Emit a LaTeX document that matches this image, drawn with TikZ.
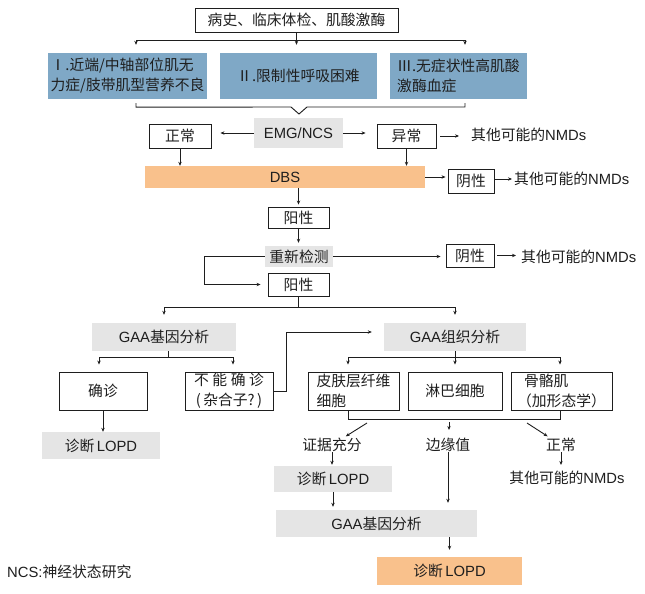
\documentclass[tikz,border=0pt]{standalone}
\usepackage{fontspec}
\setmainfont{Noto Sans CJK SC}
\newfontfamily\lat{Liberation Sans}
\usetikzlibrary{arrows.meta}
\definecolor{boxblue}{RGB}{127,168,198}
\definecolor{boxorange}{RGB}{249,193,140}
\definecolor{boxgrey}{RGB}{229,229,229}
\definecolor{ink}{RGB}{30,30,30}

\begin{document}
\begin{tikzpicture}[x=1pt, y=-1pt, font=\fontsize{14.8}{20}\selectfont, text=ink,
  plainbox/.style={draw=ink, line width=0.9pt, inner sep=0pt, align=center},
  bluebox/.style={fill=boxblue, inner sep=0pt},
  greybox/.style={fill=boxgrey, inner sep=0pt},
  orangebox/.style={fill=boxorange, inner sep=0pt},
  plaintext/.style={inner sep=0pt},
  ln/.style={draw=ink, line width=0.9pt},
  arr/.style={draw=ink, line width=0.9pt, -{Stealth[length=4pt, width=3.4pt]}}]
\useasboundingbox (0,0) rectangle (645,594);

\node[plainbox, minimum width=203, minimum height=24] (hist) at (296.5,20) {病史、临床体检、肌酸激酶};
\node[bluebox, minimum width=159, minimum height=46, align=left] (typeA) at (127.5,76) {Ⅰ.近端/中轴部位肌无\\力症/肢带肌型营养不良};
\node[bluebox, minimum width=157, minimum height=46] (typeB) at (298.5,76) {Ⅱ.限制性呼吸困难};
\node[bluebox, minimum width=137, minimum height=46, align=left] (typeC) at (458.5,76) {Ⅲ.无症状性高肌酸\\激酶血症};
\draw[arr, shorten >=8pt] (hist.south) -- ++(0,8) -| ([xshift=8.5pt]typeA.north);
\draw[arr, shorten >=8pt] (hist.south) -- (hist.south |- typeB.north);
\draw[arr, shorten >=8pt] (hist.south) -- ++(0,8) -| ([xshift=6.5pt]typeC.north);
\draw[ln] ([xshift=8.5pt, yshift=-4pt]typeA.south) -- ++(0,4) -- (291,107) -- (299,114) -- (307,107) -| ([xshift=6.5pt, yshift=-4pt]typeC.south);

\node[greybox, minimum width=89, minimum height=30] (emg) at (298.5,133) {\lat EMG/NCS};
\node[plainbox, minimum width=62, minimum height=24] (norm) at (180,136) {正常};
\node[plainbox, minimum width=59, minimum height=24] (abn) at (406.5,136) {异常};
\node[plaintext, anchor=west] (nmdA) at (471,135) {其他可能的{\lat NMDs}};
\draw[arr, shorten >=9pt] (emg.west) -- (emg.west -| norm.east);
\draw[arr, shorten >=11pt] (emg.east) -- (emg.east -| abn.west);
\draw[arr, shorten <=4pt, shorten >=12pt] (abn.east) -- (abn.east -| nmdA.west);

\node[orangebox, minimum width=280, minimum height=22] (dbs) at (285,177) {\lat DBS};
\node[plainbox, minimum width=46, minimum height=24] (negA) at (471,181) {阴性};
\node[plaintext, anchor=west] (nmdB) at (514,179) {其他可能的{\lat NMDs}};
\draw[arr] (norm.south) -- (norm.south |- dbs.north);
\draw[arr] (abn.south) -- (abn.south |- dbs.north);
\draw[arr, shorten >=2pt] (dbs.east) -- (dbs.east -| negA.west);
\draw[arr, shorten >=2pt] (negA.east |- nmdB.west) -- (nmdB.west);

\node[plainbox, minimum width=61, minimum height=21] (posA) at (298.5,217.5) {阳性};
\node[greybox, minimum width=68, minimum height=21] (retest) at (299,256.5) {重新检测};
\node[plainbox, minimum width=48, minimum height=23] (negB) at (470,255.5) {阴性};
\node[plaintext, anchor=west] (nmdC) at (521,257) {其他可能的{\lat NMDs}};
\node[plainbox, minimum width=61, minimum height=23] (posB) at (298.5,284.5) {阳性};
\draw[arr, shorten >=2pt] (posA.north |- dbs.south) -- (posA.north);
\draw[arr, shorten >=3pt] (posA.south) -- (posA.south |- retest.north);
\draw[arr, shorten >=5pt] (retest.east) -- (retest.east -| negB.west);
\draw[arr, shorten <=3pt, shorten >=5pt] (negB.east) -- (negB.east -| nmdC.west);
\draw[arr, shorten >=7pt] (retest.west) -- ++(-60,0) |- (posB.west);

\node[greybox, minimum width=144, minimum height=28] (gaaGene) at (164,337) {{\lat GAA}基因分析};
\node[greybox, minimum width=142, minimum height=28] (gaaTissue) at (455,337) {{\lat GAA}组织分析};
\draw[arr, shorten >=8pt] (posB.south) -- ++(0,11) -| (gaaGene.north);
\draw[arr, shorten >=8pt] (posB.south) -- ++(0,11) -| (gaaTissue.north);

\node[plainbox, minimum width=88, minimum height=38] (conf) at (103,391) {确诊};
\node[plainbox, minimum width=88, minimum height=38] (unconf) at (229,391) {\makebox[70pt]{不\hfill 能\hfill 确\hfill 诊}\\(\,杂合子?\,)};
\node[plainbox, minimum width=91, minimum height=38, align=left] (skin) at (353.5,391) {皮肤层纤维\\细胞};
\node[plainbox, minimum width=94, minimum height=38] (lymph) at (455,391) {淋巴细胞};
\node[plainbox, minimum width=101, minimum height=38, align=left] (muscle) at (561.5,391) {\hspace{7pt}骨骼肌\\（加形态学）};
\draw[arr, shorten >=7pt] ([xshift=4pt]gaaGene.south) -- ++(0,6) -| ([xshift=-4pt]conf.north);
\draw[arr, shorten >=7pt] ([xshift=4pt]gaaGene.south) -- ++(0,6) -| ([xshift=4pt]unconf.north);
\draw[arr, shorten >=12pt] (unconf.east) -- ++(13,0) |- ([yshift=5pt]gaaTissue.west);
\draw[arr, shorten >=7pt] (gaaTissue.south) -- ++(0,6) -| ([xshift=-5.5pt]skin.north);
\draw[arr, shorten >=7pt] (gaaTissue.south) -- (lymph.north);
\draw[arr, shorten >=7pt] (gaaTissue.south) -- ++(0,6) -| ([xshift=-1.5pt]muscle.north);

\node[greybox, minimum width=118, minimum height=27] (lopdA) at (101,445.5) {诊断\,{\lat LOPD}};
\draw[arr] (conf.south) -- (conf.south |- lopdA.north);

\draw[ln] ([xshift=-5.5pt]skin.south) -- ++(0,9) -| ([xshift=-1.5pt]muscle.south);
\coordinate (fromL) at (367,423);
\coordinate (fromM) at (449,422);
\coordinate (fromR) at (527,423);
\node[plaintext] (enough) at (332,445) {证据充分};
\node[plaintext] (border) at (448,445) {边缘值};
\node[plaintext] (normB) at (561,445) {正常};
\node[plaintext] (nmdD) at (567,478) {其他可能的{\lat NMDs}};
\draw[arr, shorten >=3pt] (fromL) -- (enough);
\draw[arr, shorten >=8pt] (fromM) -- (fromM |- border.north);
\draw[arr, shorten >=3pt] (fromR) -- (normB);
\draw[arr, shorten >=6pt] (normB.south) -- (normB.south |- nmdD.north);

\node[greybox, minimum width=118, minimum height=26] (lopdB) at (333,479) {诊断\,{\lat LOPD}};
\node[greybox, minimum width=201, minimum height=27] (gaaGeneB) at (376.5,523.5) {{\lat GAA}基因分析};
\node[orangebox, minimum width=145, minimum height=28] (lopdC) at (449.5,571) {诊断\,{\lat LOPD}};
\draw[arr, shorten >=1pt] (enough.south) -- (enough.south |- lopdB.north);
\draw[arr, shorten >=3pt] (lopdB.south) -- (lopdB.south |- gaaGeneB.north);
\draw[arr, shorten >=7pt] (border.south) -- (border.south |- gaaGeneB.north);
\draw[arr, shorten >=7pt] (lopdC.north |- gaaGeneB.south) -- (lopdC.north);

\node[plaintext, anchor=west] (note) at (7,572) {{\lat NCS:}神经状态研究};
\end{tikzpicture}
\end{document}
